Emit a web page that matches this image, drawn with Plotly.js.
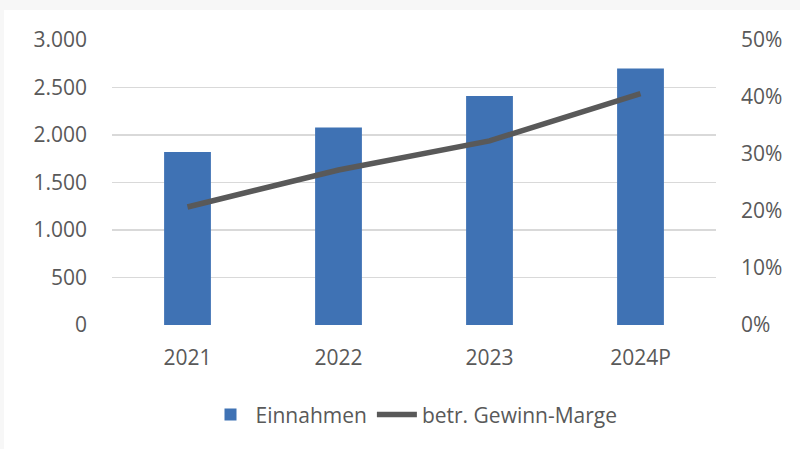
<!DOCTYPE html>
<html>
<head>
<meta charset="utf-8">
<script src="https://cdn.plot.ly/plotly-3.0.1.min.js"></script>
<style>
html,body{margin:0;padding:0;background:#f7f7f7;}
#chart{position:absolute;left:4px;top:10px;width:796px;height:439px;background:#fff;}
</style>
</head>
<body>
<div id="chart"></div>
<script>
const categories = ["2021", "2022", "2023", "2024P"];
const einnahmen = [1820, 2080, 2410, 2700];
const marge = [0.207, 0.272, 0.323, 0.406];
const leftTicks = [0, 500, 1000, 1500, 2000, 2500, 3000];
const rightTicks = [0, 0.1, 0.2, 0.3, 0.4, 0.5];

const fontFam = '"Open Sans", sans-serif';
const grey = '#595959';

const traces = [
  {
    type: 'bar', x: categories, y: einnahmen, name: 'Einnahmen',
    marker: {color: '#3f72b4'}, yaxis: 'y'
  },
  {
    type: 'scatter', mode: 'lines', x: categories, y: marge, name: 'betr. Gewinn-Marge',
    line: {color: '#595959', width: 5.5}, yaxis: 'y2'
  }
];

const layout = {
  width: 796, height: 439,
  margin: {l: 108, r: 84, t: 30, b: 124},
  paper_bgcolor: '#ffffff', plot_bgcolor: '#ffffff',
  separators: ',.',
  font: {family: fontFam, size: 21, color: grey},
  bargap: 0.69,
  showlegend: true,
  legend: {orientation: 'h', x: 0.5, xanchor: 'center', y: -0.315, yanchor: 'middle',
           font: {family: fontFam, size: 21, color: grey}, itemwidth: 40, traceorder: 'normal'},
  xaxis: {
    type: 'category', showgrid: false, zeroline: false, showline: false,
    ticks: '', ticklabelstandoff: 18, tickfont: {size: 21, color: grey}
  },
  yaxis: {
    range: [0, 3000], tickvals: leftTicks, tickformat: ',d',
    showgrid: true, gridcolor: '#d9d9d9', gridwidth: 1.5, zeroline: false, showline: false,
    ticks: '', ticklabelstandoff: 24, tickfont: {size: 21, color: grey}
  },
  yaxis2: {
    range: [0, 0.5], tickvals: rightTicks, tickformat: '.0%',
    overlaying: 'y', side: 'right', showgrid: false, zeroline: false, showline: false,
    ticks: '', ticklabelstandoff: 24, tickfont: {size: 21, color: grey}
  }
};

Plotly.newPlot('chart', traces, layout, {displayModeBar: false, staticPlot: true});
</script>
</body>
</html>
